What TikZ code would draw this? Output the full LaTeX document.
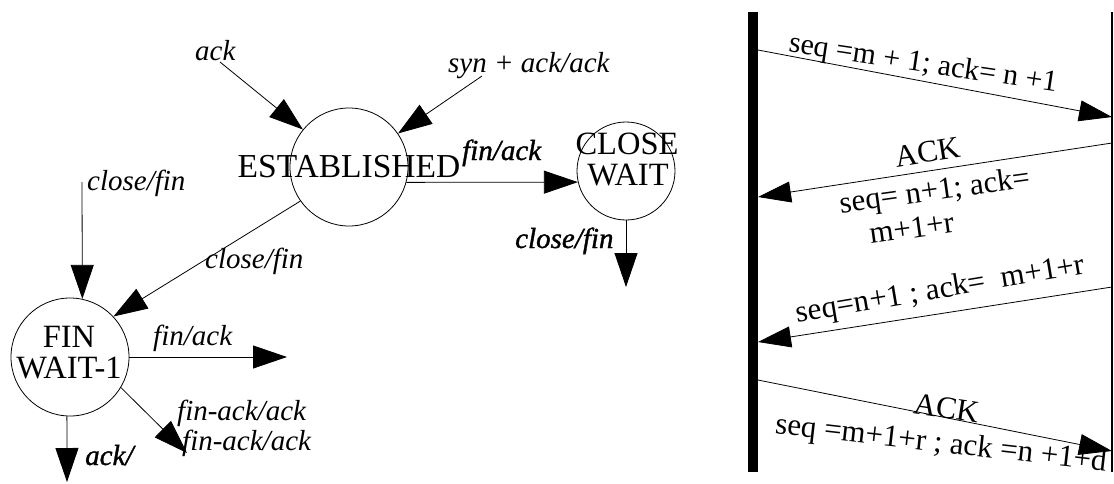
\documentclass[tikz,border=0pt]{standalone}
\usepackage{fontspec}
\setmainfont{Liberation Serif}
\newfontfamily\heavyit{Liberation Serif}[ItalicFeatures={FakeBold=1.2}]
\usetikzlibrary{arrows.meta}
\begin{document}
\begin{tikzpicture}[x=1pt,y=-1pt,
  state/.style={draw, circle, inner sep=0pt, line width=0.8pt},
  trans/.style={draw, line width=0.8pt, -{Triangle[length=34pt,width=23pt]}},
  msg/.style={draw, line width=0.8pt, -{Triangle[length=33pt,width=21pt]}},
  lbl/.style={font=\fontsize{29}{32}\selectfont\itshape, inner sep=0pt, anchor=base west},
  blbl/.style={font=\fontsize{29}{32}\selectfont\heavyit\itshape, inner sep=0pt, anchor=base west},
  sname/.style={font=\fontsize{32.5}{34}\selectfont, inner sep=0pt},
  mlbl/.style={font=\fontsize{31}{34}\selectfont, inner sep=0pt, anchor=base},
]
\useasboundingbox (0,0) rectangle (1114,483);

% ---------------- state machine ----------------
\node[state, minimum size=118pt] (est) at (349,167) {};
\node[sname, font=\fontsize{33.5}{34}\selectfont] (estT) at (349,167) {ESTABLISHED};

\node[state, minimum size=98pt] (cw) at (626,171) {};
\node[sname, anchor=base] (cwT1) at (627,154) {CLOSE};
\node[sname, anchor=base] (cwT2) at (628,185) {WAIT};

\node[state, minimum size=118pt] (fw) at (70,357) {};
\node[sname, anchor=base] (fwT1) at (69,347) {FIN};
\node[sname, anchor=base] (fwT2) at (69,378) {WAIT-1};

% incoming transitions of ESTABLISHED
\coordinate (ackS) at (220,62);
\coordinate (synS) at (482,76);
\draw[trans] (ackS) -- (est);
\draw[trans] (synS) -- (est);
\node[lbl] (lAck) at (195,60) {ack};
\node[lbl] (lSyn) at (448,72) {syn + ack/ack};

% ESTABLISHED -> CLOSE WAIT
\draw[trans] (est.-15) -- (cw.193);
\node[blbl] (lFinAck) at (462,160) {fin/ack};

% CLOSE WAIT outgoing
\coordinate (cwOut) at (626,287);
\draw[trans] (cw.south) -- (cwOut);
\node[blbl] (lCwClose) at (515,248) {close/fin};

% FIN WAIT-1 incoming
\coordinate (cfS) at (82,182);
\draw[trans] (cfS) -- (fw.78);
\node[lbl] (lClose1) at (87,190) {close/fin};
\draw[trans] (est.215) -- (fw.43);
\node[lbl] (lClose2) at (205,268) {close/fin};

% FIN WAIT-1 outgoing
\coordinate (faE) at (287,357);
\draw[trans] (fw.east) -- (faE);
\node[lbl] (lFwFin) at (153,345) {fin/ack};
\coordinate (fakE) at (187,453);
\draw[trans] (fw.-31) -- (fakE);
\node[lbl] (lFak1) at (177,420) {fin-ack/ack};
\node[lbl] (lFak2) at (182,450) {fin-ack/ack};
\coordinate (ackE) at (67,482);
\draw[trans] (fw.-93) -- (ackE);
\node[blbl] (lAckOut) at (85,465) {ack/};

% ---------------- time sequence ----------------
\coordinate (Ltop) at (753,12);
\coordinate (Lbot) at (753,472);
\coordinate (Rtop) at (1112,12);
\coordinate (Rbot) at (1112,472);
\draw[line width=10pt] (Ltop) -- (Lbot);
\draw[line width=1.5pt] (Rtop) -- (Rbot);

\coordinate (a1) at (758,50);  \coordinate (b1) at (1112,117);
\coordinate (b2) at (1112,143); \coordinate (a2) at (758,197);
\coordinate (b3) at (1112,287); \coordinate (a3) at (758,342);
\coordinate (a4) at (758,380);  \coordinate (b4) at (1112,451);

\draw[msg] (a1) -- (b1);
\draw[msg] (b2) -- (a2);
\draw[msg] (b3) -- (a3);
\draw[msg] (a4) -- (b4);

\node[mlbl, rotate=-8.5, font=\fontsize{30}{34}\selectfont] (m1) at (922,72) {seq =m + 1; ack= n +1};
\node[mlbl, rotate=9] (m2a) at (929,162) {ACK};
\node[mlbl, rotate=8] (m2b) at (936,200) {seq= n+1; ack=};
\node[mlbl, rotate=8] (m2c) at (913,238) {m+1+r};
\node[mlbl, rotate=9.6] (m3) at (942,298) {seq=n+1 ; ack=\ \ m+1+r};
\node[mlbl, rotate=-8.7] (m4a) at (945,418) {ACK};
\node[mlbl, rotate=-6.5] (m4b) at (940,452) {seq =m+1+r ; ack =n +1+d};
\end{tikzpicture}
\end{document}
